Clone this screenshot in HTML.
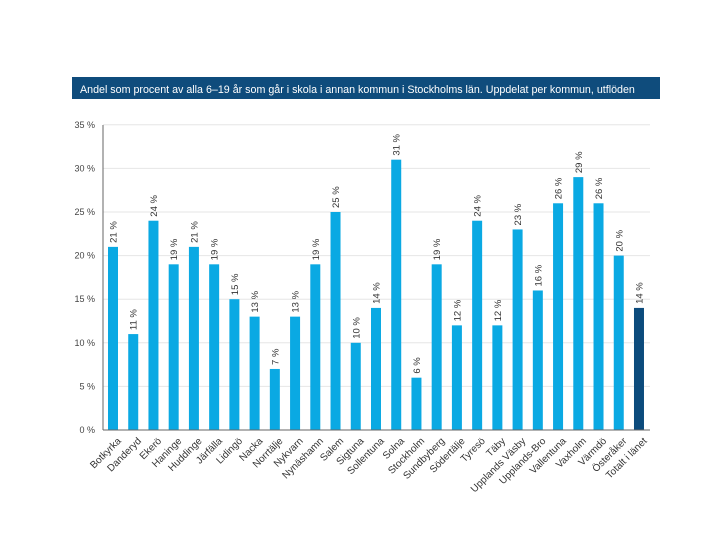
<!DOCTYPE html>
<html><head><meta charset="utf-8"><style>
body{margin:0;background:#fff;width:720px;height:540px;overflow:hidden;font-family:"Liberation Sans",sans-serif}
</style></head><body>
<svg width="720" height="540">
<rect x="72" y="77" width="588" height="22" fill="#0f4c7c"/>
<text x="80" y="93" fill="#fff" font-size="10.7" font-family="Liberation Sans, sans-serif">Andel som procent av alla 6–19 år som går i skola i annan kommun i Stockholms län. Uppdelat per kommun, utflöden</text>
<g id="grid"></g><g id="bars"></g>
<line x1="103" y1="125" x2="103" y2="430" stroke="#666"/>
<line x1="103" y1="430" x2="650" y2="430" stroke="#666"/>
</svg>
<script>
const categories=["Botkyrka","Danderyd","Ekerö","Haninge","Huddinge","Järfälla","Lidingö","Nacka","Norrtälje","Nykvarn","Nynäshamn","Salem","Sigtuna","Sollentuna","Solna","Stockholm","Sundbyberg","Södertälje","Tyresö","Täby","Upplands Väsby","Upplands-Bro","Vallentuna","Vaxholm","Värmdö","Österåker","Totalt i länet"];
const values=[21,11,24,19,21,19,15,13,7,13,19,25,10,14,31,6,19,12,24,12,23,16,26,29,26,20,14];
const yTicks=[0,5,10,15,20,25,30,35];
const NS="http://www.w3.org/2000/svg";
const y=v=>430-v*8.72;
const x=i=>113+i*20.23;
const grid=document.getElementById('grid'),bars=document.getElementById('bars');
function mk(t,a,p){const e=document.createElementNS(NS,t);for(const k in a)e.setAttribute(k,a[k]);p.appendChild(e);return e;}
yTicks.forEach(t=>{
 if(t>0){const l=mk('line',{x1:103,x2:650,y1:y(t),y2:y(t),stroke:'#e6e6e6'},grid);
 
 }
 const tx=mk('text',{x:95,y:y(t)+3,'text-anchor':'end','font-size':9,fill:'#444'},grid);
 tx.textContent=t+' %';
 
 
});
values.forEach((v,i)=>{
 const last=i===values.length-1;
 const r=mk('rect',{x:x(i)-5,y:y(v),width:10,height:430-y(v),fill:last?'#0c4b7c':'#0aa9e3'},bars);
 
 
 const vl=mk('text',{transform:`translate(${x(i)+3.5},${y(v)-4}) rotate(-90)`,'font-size':9.5,fill:'#333'},bars);
 vl.textContent=v+' %';
 
 
 const cl=mk('text',{transform:`translate(${x(i)+4},${437}) rotate(-45)`,'text-anchor':'end','font-size':10,fill:'#333','dominant-baseline':'hanging'},bars);
 cl.textContent=categories[i];
 
 
});
</script>
</body></html>
